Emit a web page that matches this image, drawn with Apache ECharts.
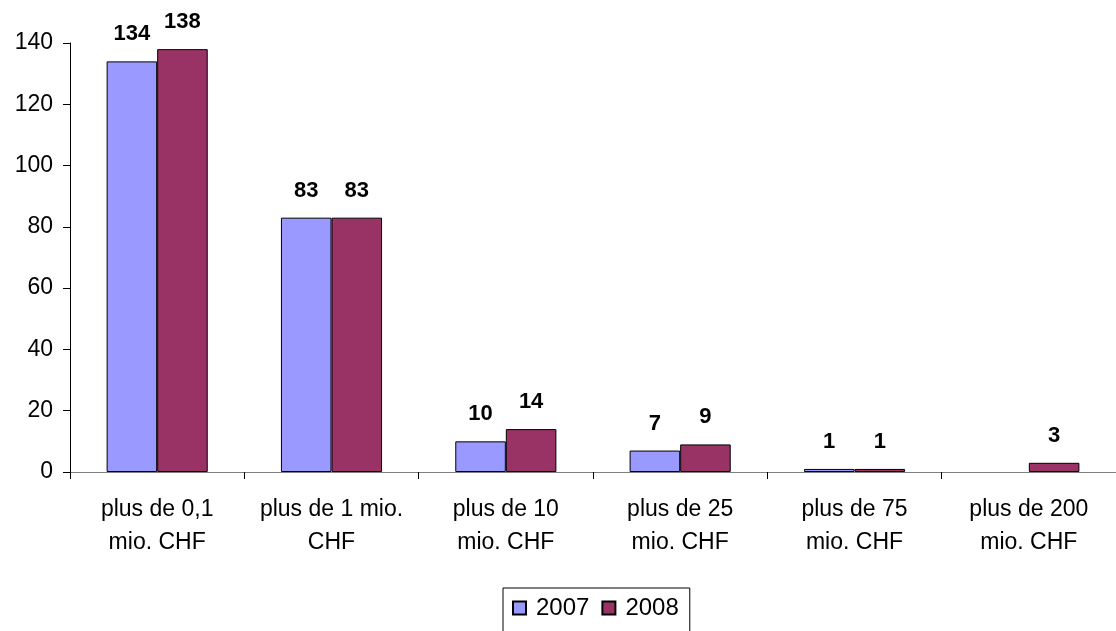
<!DOCTYPE html>
<html>
<head>
<meta charset="utf-8">
<script src="https://cdn.jsdelivr.net/npm/echarts@6/dist/echarts.min.js"></script>
<style>
html, body { margin: 0; padding: 0; background: #fff; }
#chart { width: 1116px; height: 631px; }
</style>
</head>
<body>
<div id="chart"></div>
<script>
const categories = [
  'plus de 0,1\nmio. CHF',
  'plus de 1 mio.\nCHF',
  'plus de 10\nmio. CHF',
  'plus de 25\nmio. CHF',
  'plus de 75\nmio. CHF',
  'plus de 200\nmio. CHF'
]
const values2007 = [134, 83, 10, 7, 1, null]
const values2008 = [138, 83, 14, 9, 1, 3]

const font = 'Liberation Sans, Arial, sans-serif'

const chart = echarts.init(document.getElementById('chart'))

const barLabel = {
  show: true,
  position: 'top',
  distance: 16,
  color: '#000',
  fontFamily: font,
  fontSize: 22,
  fontWeight: 'bold'
}

const option = {
  animation: false,
  backgroundColor: '#fff',
  grid: {
    left: 70,
    right: -9,
    top: 43,
    bottom: 159
  },
  legend: {
    top: 588,
    left: 503,
    icon: 'rect',
    itemWidth: 13,
    itemHeight: 13,
    itemGap: 12,
    padding: [8, 11, 30, 9],
    borderColor: '#000',
    borderWidth: 1,
    textStyle: { fontFamily: font, fontSize: 24, color: '#000', padding: [0, 0, 0, 5] },
    data: ['2007', '2008']
  },
  xAxis: {
    type: 'category',
    data: categories,
    axisLine: { lineStyle: { color: '#808080', width: 1 } },
    axisTick: { show: true, length: 7, lineStyle: { color: '#000' } },
    axisLabel: {
      interval: 0,
      color: '#000',
      fontFamily: font,
      fontSize: 23,
      lineHeight: 33,
      margin: 21
    }
  },
  yAxis: {
    type: 'value',
    min: 0,
    max: 140,
    interval: 20,
    axisLine: { show: true, lineStyle: { color: '#000', width: 1 } },
    axisTick: { show: true, length: 7, lineStyle: { color: '#000' } },
    splitLine: { show: false },
    axisLabel: {
      color: '#000',
      fontFamily: font,
      fontSize: 23,
      margin: 17
    }
  },
  series: [
    {
      name: '2007',
      type: 'bar',
      data: values2007,
      barGap: '0%',
      barCategoryGap: '42%',
      itemStyle: { color: '#9999FF', borderColor: '#000', borderWidth: 1 },
      label: barLabel
    },
    {
      name: '2008',
      type: 'bar',
      data: values2008,
      itemStyle: { color: '#993366', borderColor: '#000', borderWidth: 1 },
      label: barLabel
    }
  ]
}

chart.setOption(option)
</script>
</body>
</html>
